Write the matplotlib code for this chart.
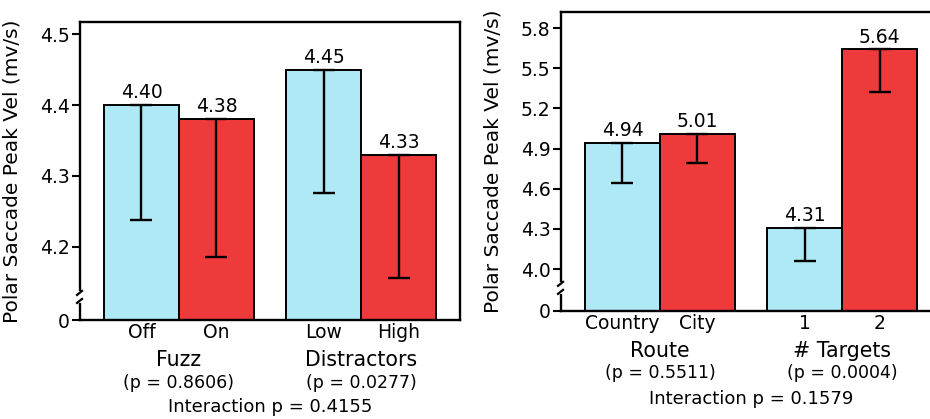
"""
Dos paneles de barras con eje Y partido: velocidad pico de sacadas polares
por condición (Fuzz / Distractors y Route / # Targets).
"""

import matplotlib
matplotlib.use("Agg")
import matplotlib.pyplot as plt

# ---- datos panel izquierdo
izq_cats = ["Off", "On", "Low", "High"]
izq_vals = [4.40, 4.38, 4.45, 4.33]
izq_inf = [4.238, 4.186, 4.276, 4.156]      # extremo inferior de la barra de error
izq_grupos = ["Fuzz", "Distractors"]
izq_p = ["(p = 0.8606)", "(p = 0.0277)"]
izq_inter = "Interaction p = 0.4155"
izq_ticks = [4.2, 4.3, 4.4, 4.5]
izq_lim = (4.097, 4.517)

# ---- datos panel derecho
der_cats = ["Country", "City", "1", "2"]
der_vals = [4.94, 5.01, 4.31, 5.64]
der_inf = [4.64, 4.795, 4.06, 5.32]
der_grupos = ["Route", "# Targets"]
der_p = ["(p = 0.5511)", "(p = 0.0004)"]
der_inter = "Interaction p = 0.1579"
der_ticks = [4.0, 4.3, 4.6, 4.9, 5.2, 5.5, 5.8]
der_lim = (3.687, 5.92)

AZUL = "#aee9f5"
ROJO = "#ee3a3a"
POS = [0.0, 1.0, 2.43, 3.43]
YLABEL = "Polar Saccade Peak Vel (mv/s)"

W, H = 930, 419
fig = plt.figure(figsize=(W / 100, H / 100), dpi=100)


def panel(rect, cats, vals, inf, grupos, pvals, inter, ticks, lim):
    ax = fig.add_axes(rect)
    base = lim[0]
    colores = [AZUL, ROJO, AZUL, ROJO]
    ax.bar(POS, [v - base for v in vals], bottom=base, width=1.0,
           color=colores, edgecolor="black", linewidth=1.4, zorder=2)
    err = [v - i for v, i in zip(vals, inf)]
    ax.errorbar(POS, vals, yerr=[err, [0] * 4], fmt="none", ecolor="black",
                elinewidth=1.7, capsize=8, capthick=1.7, zorder=3)
    for x, v in zip(POS, vals):
        ax.annotate(f"{v:.2f}", (x, v), xytext=(0, 2), textcoords="offset points",
                    ha="center", va="bottom", fontsize=13.5)

    ax.set_xlim(-0.82, 4.25)
    ax.set_ylim(*lim)
    ax.set_yticks([base] + ticks)
    ax.set_yticklabels(["0"] + [f"{t:.1f}" for t in ticks], fontsize=13.5)
    ax.set_xticks(POS)
    ax.set_xticklabels(cats, fontsize=13.5)
    ax.tick_params(axis="x", length=0, pad=2)
    ax.tick_params(axis="y", length=6, width=1.5, pad=1.5)
    for s in ax.spines.values():
        s.set_linewidth(1.7)
    ax.set_ylabel(YLABEL, fontsize=14.5)
    ax.yaxis.set_label_coords(-0.153, 0.5)

    # nombres de grupo, p y la interacción bajo el eje
    trans = ax.get_xaxis_transform()
    centros = [(POS[0] + POS[1]) / 2, (POS[2] + POS[3]) / 2]
    for c, g, p in zip(centros, grupos, pvals):
        ax.annotate(g, (c, 0), xycoords=trans, xytext=(0, -29),
                    textcoords="offset points", ha="center", va="center",
                    fontsize=14.8)
        ax.annotate(p, (c, 0), xycoords=trans, xytext=(0, -45),
                    textcoords="offset points", ha="center", va="center",
                    fontsize=12.5)
    ax.annotate(inter, (0.5, 0), xycoords="axes fraction", xytext=(0, -63),
                textcoords="offset points", ha="center", va="center",
                fontsize=13)

    # marca de eje partido sobre el lomo izquierdo
    pw = rect[2] * W
    ph = rect[3] * H
    yc = 0.074
    ax.plot([0, 0], [yc - 2 / ph, yc + 5 / ph], transform=ax.transAxes,
            color="white", lw=3.5, clip_on=False, zorder=5)
    ax.plot([2 / pw, -3 / pw], [yc + 7 / ph, yc + 3 / ph],
            transform=ax.transAxes, color="black", lw=1.6, clip_on=False,
            zorder=6)
    ax.plot([-3 / pw, 2 / pw], [yc - 5 / ph, yc - 1 / ph],
            transform=ax.transAxes, color="black", lw=1.6, clip_on=False,
            zorder=6)
    return ax


panel([80 / W, 1 - 320 / H, 380 / W, 298 / H], izq_cats, izq_vals, izq_inf,
      izq_grupos, izq_p, izq_inter, izq_ticks, izq_lim)
panel([561 / W, 1 - 311 / H, 380 / W, 299 / H], der_cats, der_vals, der_inf,
      der_grupos, der_p, der_inter, der_ticks, der_lim)

fig.savefig("out.png", dpi=100)
